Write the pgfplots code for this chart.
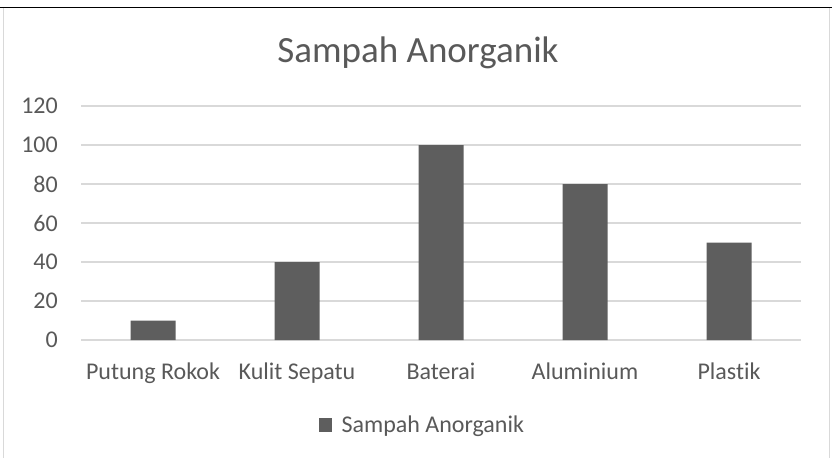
\documentclass[border=0pt]{standalone}
\usepackage{pgfplots}
\pgfplotsset{compat=1.18}
\usepackage{fontspec}
\setmainfont[Ligatures=NoCommon]{Carlito}
\definecolor{txt}{HTML}{595959}
\definecolor{bar}{HTML}{5E5E5E}
\definecolor{grd}{HTML}{D9D9D9}
\begin{document}
\begin{tikzpicture}
\useasboundingbox (0,0) rectangle (832bp,-458bp);
\draw[grd, line width=1.2bp] (3.5bp,-8bp) -- (3.5bp,-470bp);
\draw[grd, line width=1.2bp] (829.5bp,-8bp) -- (829.5bp,-470bp);
\draw[black, line width=1.5bp] (0,-7.5bp) -- (832bp,-7.5bp);
\node[txt, font=\fontsize{37bp}{44bp}\selectfont, anchor=base, inner sep=0pt] at (418bp,-62bp) {Sampah Anorganik};
\begin{axis}[
  at={(81bp,-340bp)}, anchor=south west,
  scale only axis, width=720bp, height=234bp,
  xmin=-0.5, xmax=4.5, ymin=0, ymax=120,
  ytick={0,20,40,60,80,100,120},
  xtick={0,1,2,3,4},
  xticklabels={Putung Rokok, Kulit Sepatu, Baterai, Aluminium, Plastik},
  axis line style={draw=none},
  major tick length=0pt,
  ymajorgrids, grid style={grd, line width=1.2bp},
  /pgf/number format/assume math mode=true,
  tick label style={txt, font=\fontsize{24bp}{29bp}\selectfont},
  yticklabel style={anchor=east, inner sep=0pt, xshift=-23bp},
  xticklabel style={anchor=base, inner sep=0pt, yshift=-39bp},
  ybar, bar width=45bp, bar shift=0pt,
  legend style={at={(0.474,-0.363)}, anchor=center, draw=none, fill=none,
    font=\fontsize{24bp}{29bp}\selectfont, text=txt, inner sep=0pt},
  legend image code/.code={\fill[bar] (0bp,-7bp) rectangle (13bp,7bp); \path (21bp,0bp);},
]
\addplot[fill=bar, draw=none] coordinates {(0,10) (1,40) (2,100) (3,80) (4,50)};
\addlegendentry{Sampah Anorganik}
\end{axis}
\end{tikzpicture}
\end{document}
